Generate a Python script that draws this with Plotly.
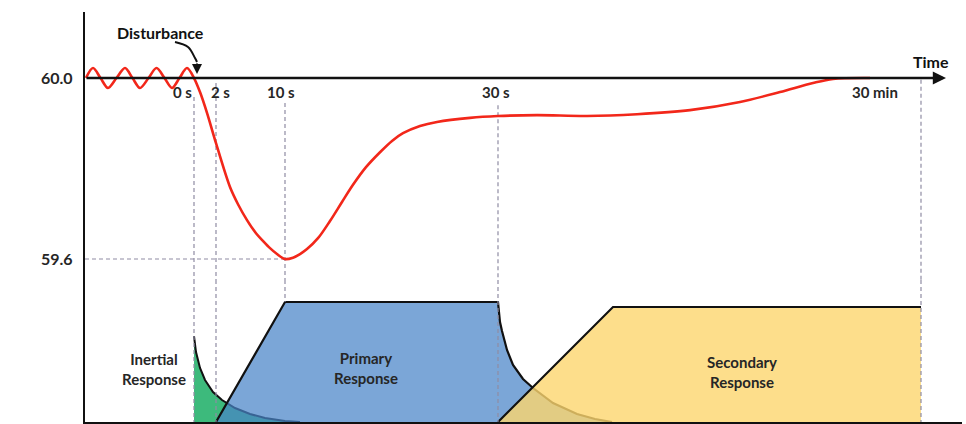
import plotly.graph_objects as go

# ---------------- data ----------------
# schematic time positions of the reference instants (horizontal diagram units)
tick_pos = [194, 216, 285, 498, 921]
tick_text = ["0 s", "2 s", "10 s", "30 s", "30 min"]

# frequency trace (Hz) : pre-disturbance oscillation then dip and recovery
freq_x = [86, 93, 100.5, 108, 116.5, 125, 132.5, 140, 148.5, 156.5, 164.5, 172, 179.5, 187, 194,
          200, 207, 216, 230, 238, 247, 256, 263, 270, 277, 285, 293, 300, 307, 318, 330, 342, 353,
          366, 380, 392, 403, 420, 437, 470, 498, 537, 587, 637, 690, 740, 780, 813, 833, 870]
freq_hz = [60.0, 60.022, 60.0, 59.978, 60.0, 60.022, 60.0, 59.978, 60.0, 60.022, 60.0, 59.978, 60.0, 60.022, 60.0,
           59.969, 59.923, 59.856, 59.759, 59.721, 59.686, 59.657, 59.640, 59.624, 59.611, 59.600,
           59.603, 59.611, 59.622, 59.646, 59.684, 59.726, 59.764, 59.803, 59.836, 59.861, 59.878,
           59.894, 59.903, 59.912, 59.916, 59.918, 59.916, 59.920, 59.929, 59.947, 59.969, 59.989,
           59.998, 60.0]

freq_ticks = [59.6, 60.0]
freq_ticktext = ["59.6", "60.0"]
nadir_hz = 59.6
nadir_x = 285

# power responses (MW, schematic)
inertial_x = [194, 196, 200, 205, 213, 222, 235, 250, 265, 285, 300]
inertial_mw = [86, 70, 54, 42, 30, 22, 14, 8, 4, 1, 0]

primary_x = [216, 285, 498, 499, 500, 502, 507, 513, 523, 533, 553, 577, 595, 612]
primary_mw = [0, 120, 120, 106, 100, 91, 72, 57, 43, 34, 19, 8, 3, 0]

secondary_x = [498, 613, 921]
secondary_mw = [0, 115, 115]

# dashed guide extents: start (Hz, top panel) and end (MW, bottom panel)
guide_start_hz = [59.958, 59.989, 59.945, 59.940, 59.996]
guide_end_mw = [0, 0, 120, 0, 0]
tick_label_shift = [-12, 4, -4, -2, -46]

# disturbance arrow path (top panel)
dist_x = [175, 188, 195, 197]
dist_hz = [60.0796, 60.0685, 60.0442, 60.0354]

# ---------------- style ----------------
FONT = "Lato"
TXT = "#262626"
F_RANGE = [59.5536, 60.1459]
P_RANGE = [0, 142]
SPLIT = 0.3463
GUIDE = dict(color="#8f8ca3", width=1.2, dash="4px,3px")

fig = go.Figure()

# fills / outlines in the power panel
fig.add_trace(go.Scatter(x=inertial_x, y=inertial_mw, xaxis="x", yaxis="y2", mode="lines",
                         line=dict(width=0), fill="tozeroy", fillcolor="#3dba7c"))
fig.add_trace(go.Scatter(x=inertial_x, y=inertial_mw, xaxis="x", yaxis="y2", mode="lines",
                         line=dict(color="#111111", width=2)))
fig.add_trace(go.Scatter(x=primary_x, y=primary_mw, xaxis="x", yaxis="y2", mode="lines",
                         line=dict(width=0), fill="tozeroy", fillcolor="rgba(72,132,200,0.72)"))
fig.add_trace(go.Scatter(x=primary_x, y=primary_mw, xaxis="x", yaxis="y2", mode="lines",
                         line=dict(color="#111111", width=2.2)))
fig.add_trace(go.Scatter(x=secondary_x, y=secondary_mw, xaxis="x", yaxis="y2", mode="lines",
                         line=dict(width=0), fill="tozeroy", fillcolor="rgba(253,214,110,0.80)"))
fig.add_trace(go.Scatter(x=secondary_x, y=secondary_mw, xaxis="x", yaxis="y2", mode="lines",
                         line=dict(color="#111111", width=2.2)))

# dashed guides
for t, hs, me in zip(tick_pos, guide_start_hz, guide_end_mw):
    fig.add_trace(go.Scatter(x=[t, t], y=[hs, F_RANGE[0]], xaxis="x", yaxis="y", mode="lines", line=GUIDE))
    fig.add_trace(go.Scatter(x=[t, t], y=[P_RANGE[1], me], xaxis="x", yaxis="y2", mode="lines", line=GUIDE))
fig.add_trace(go.Scatter(x=[85, nadir_x], y=[nadir_hz, nadir_hz], xaxis="x", yaxis="y", mode="lines", line=GUIDE))

# frequency curve
fig.add_trace(go.Scatter(x=freq_x, y=freq_hz, xaxis="x", yaxis="y", mode="lines",
                         line=dict(color="#f2271a", width=2.6, shape="spline", smoothing=0.9)))

# disturbance arrow curve
fig.add_trace(go.Scatter(x=dist_x, y=dist_hz, xaxis="x", yaxis="y", mode="lines",
                         line=dict(color="#111111", width=2, shape="spline")))

annotations = []
# time axis arrow
annotations.append(dict(x=946, y=60.0, ax=85, ay=60.0, xref="x", yref="y", axref="x", ayref="y",
                        showarrow=True, arrowhead=2, arrowsize=1.1, arrowwidth=2.4, arrowcolor="#111111", text=""))
annotations.append(dict(x=197, y=60.0088, ax=197, ay=60.0354, xref="x", yref="y", axref="x", ayref="y",
                        showarrow=True, arrowhead=2, arrowsize=1, arrowwidth=2, arrowcolor="#111111", text=""))

bold = dict(family=FONT, size=15, color=TXT, weight="bold")
for t, lab, sh in zip(tick_pos, tick_text, tick_label_shift):
    annotations.append(dict(x=t, y=59.969, xref="x", yref="y", text=lab, showarrow=False,
                            xshift=sh, font=bold))
annotations.append(dict(x=160, y=60.1017, xref="x", yref="y", text="Disturbance", showarrow=False,
                        font=dict(family=FONT, size=16, color="#111111", weight="bold")))
annotations.append(dict(x=931, y=60.0376, xref="x", yref="y", text="Time", showarrow=False,
                        font=dict(family=FONT, size=16, color="#111111", weight="bold")))
annotations.append(dict(x=153.5, y=53, xref="x", yref="y2", text="Inertial<br>Response", showarrow=False,
                        font=bold))
annotations.append(dict(x=366, y=54.5, xref="x", yref="y2", text="Primary<br>Response", showarrow=False,
                        font=bold))
annotations.append(dict(x=742, y=50.5, xref="x", yref="y2", text="Secondary<br>Response", showarrow=False,
                        font=bold))
annotations.append(dict(x=18, y=59.914, xref="x", yref="y", text="Frequency (Hz)", showarrow=False,
                        textangle=-90, font=dict(family=FONT, size=16, color=TXT, weight="bold")))
annotations.append(dict(x=18, y=77, xref="x", yref="y2", text="Power (MW)", showarrow=False,
                        textangle=-90, font=dict(family=FONT, size=16, color=TXT, weight="bold")))

axis_common = dict(showgrid=False, zeroline=False)
fig.update_layout(
    width=966, height=424,
    margin=dict(l=85, r=4, t=12, b=2),
    paper_bgcolor="white", plot_bgcolor="white",
    showlegend=False, hovermode=False,
    xaxis=dict(range=[85, 962], anchor="y2", showline=True, linecolor="#111111", linewidth=2.4,
               showticklabels=False, ticks="", **axis_common),
    yaxis=dict(domain=[SPLIT, 1], range=F_RANGE, anchor="x", showline=True, linecolor="#111111",
               linewidth=2.4, tickvals=freq_ticks, ticktext=freq_ticktext, ticks="",
               ticklabelstandoff=7, tickfont=dict(family=FONT, size=16, color=TXT, weight="bold"),
               **axis_common),
    yaxis2=dict(domain=[0, SPLIT], range=P_RANGE, anchor="x", showline=True, linecolor="#111111",
                linewidth=2.4, showticklabels=False, ticks="", **axis_common),
    annotations=annotations,
)

fig.write_html("out.html", config={"displayModeBar": False},
               post_script="document.body.style.margin='0px';")
